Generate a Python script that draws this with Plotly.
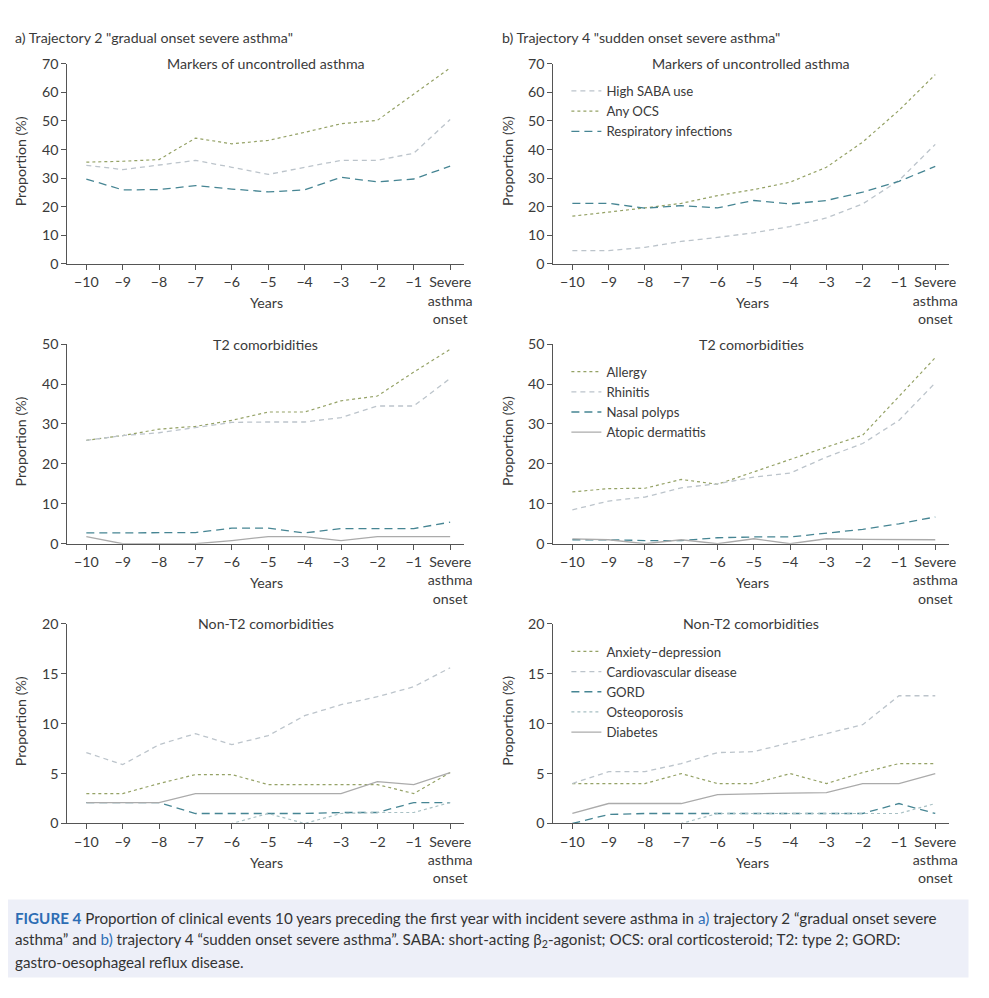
import plotly.graph_objects as go

# Figure size inside the 989x998 page (body keeps an 8px margin).
PAGE_OFF = 8
W, H = 989 - 2 * PAGE_OFF, 998 - 2 * PAGE_OFF
# measured relation between page pixels and photographed pixels
SX, CX = 0.9865, 1.7
SY, CY = 0.9836, 8.7

years = [-10, -9, -8, -7, -6, -5, -4, -3, -2, -1, 0]
tick_text = ["\u221210", "\u22129", "\u22128", "\u22127", "\u22126", "\u22125",
             "\u22124", "\u22123", "\u22122", "\u22121", "Severe<br>asthma<br>onset"]

# ---- a) Trajectory 2: gradual onset ----
a_saba = [34.5, 33.0, 34.6, 36.2, 33.8, 31.3, 33.8, 36.2, 36.2, 38.7, 50.5]
a_ocs = [35.6, 35.9, 36.5, 44.0, 42.0, 43.2, 46.0, 49.0, 50.2, 59.5, 68.5]
a_resp = [29.7, 25.9, 26.0, 27.4, 26.2, 25.2, 25.9, 30.3, 28.7, 29.7, 34.2]

a_allergy = [25.9, 27.1, 28.7, 29.4, 30.9, 33.0, 33.0, 35.8, 37.0, 43.0, 48.7]
a_rhinitis = [25.9, 27.1, 27.8, 29.1, 30.4, 30.5, 30.5, 31.6, 34.5, 34.5, 41.4]
a_polyps = [2.7, 2.7, 2.7, 2.8, 3.9, 3.9, 2.7, 3.8, 3.8, 3.8, 5.4]
a_atopic = [1.8, 0.0, 0.0, 0.0, 0.8, 1.8, 1.8, 0.8, 1.8, 1.8, 1.8]

a_anxiety = [3.0, 3.0, 4.0, 4.9, 4.9, 3.9, 3.9, 3.9, 3.9, 3.0, 5.1]
a_cardio = [7.1, 5.9, 7.9, 9.0, 7.9, 8.8, 10.8, 11.9, 12.7, 13.7, 15.6]
a_gord = [2.1, 2.1, 2.1, 1.0, 1.0, 1.0, 1.0, 1.1, 1.1, 2.1, 2.1]
a_osteo = [0.0, 0.0, 0.0, 0.0, 0.0, 1.0, 0.0, 1.0, 1.1, 1.1, 2.1]
a_diabetes = [2.1, 2.1, 2.1, 3.0, 3.0, 3.0, 3.0, 3.0, 4.2, 3.9, 5.1]

# ---- b) Trajectory 4: sudden onset ----
b_saba = [4.7, 4.7, 5.8, 7.9, 9.3, 10.9, 13.1, 16.1, 21.0, 29.2, 41.8]
b_ocs = [16.7, 18.1, 19.6, 21.2, 23.9, 26.0, 28.6, 33.8, 42.6, 53.7, 66.2]
b_resp = [21.2, 21.2, 19.5, 20.4, 19.6, 22.2, 21.0, 22.2, 25.1, 28.9, 34.1]

b_allergy = [13.0, 13.8, 13.9, 16.1, 14.9, 18.0, 21.2, 24.2, 27.2, 36.8, 46.6]
b_rhinitis = [8.5, 10.7, 11.7, 14.0, 15.0, 16.7, 17.7, 21.7, 25.1, 30.9, 40.3]
b_polyps = [1.0, 1.0, 0.8, 0.8, 1.5, 1.7, 1.7, 2.7, 3.6, 5.0, 6.7]
b_atopic = [1.2, 1.0, 0.0, 1.0, 0.0, 1.25, 0.0, 1.25, 1.1, 1.0, 1.0]

b_anxiety = [4.0, 4.0, 4.0, 5.0, 4.0, 4.0, 5.0, 4.0, 5.1, 6.0, 6.0]
b_cardio = [4.0, 5.2, 5.2, 6.0, 7.1, 7.2, 8.1, 9.0, 9.9, 12.8, 12.8]
b_gord = [0.0, 0.9, 1.0, 1.0, 1.0, 1.0, 1.0, 1.0, 1.0, 2.0, 1.0]
b_osteo = [0.0, 0.0, 0.0, 0.0, 1.0, 1.0, 1.0, 1.0, 1.0, 1.0, 2.0]
b_diabetes = [1.0, 2.0, 2.0, 2.0, 2.9, 3.0, 3.05, 3.1, 4.0, 4.0, 5.0]

row_titles = ["Markers of uncontrolled asthma", "T2 comorbidities", "Non-T2 comorbidities"]
y_max = [70, 50, 20]
y_dtick = [10, 10, 5]

OLIVE = "#95a266"
LGREY = "#bcc4cb"
TEAL = "#468593"
SGREY = "#ababab"
OSTEO = "#a8c0c4"

style = {
    "ocs": dict(color=OLIVE, dash="dot", width=1.2),
    "saba": dict(color=LGREY, dash="5px,4px", width=1.3),
    "resp": dict(color=TEAL, dash="8px,5px", width=1.3),
    "solid": dict(color=SGREY, dash="solid", width=1.3),
    "osteo": dict(color=OSTEO, dash="dot", width=1.2),
}

series = [
    (1, 1, "High SABA use", a_saba, "saba"),
    (1, 1, "Any OCS", a_ocs, "ocs"),
    (1, 1, "Respiratory infections", a_resp, "resp"),
    (1, 2, "High SABA use", b_saba, "saba"),
    (1, 2, "Any OCS", b_ocs, "ocs"),
    (1, 2, "Respiratory infections", b_resp, "resp"),
    (2, 1, "Allergy", a_allergy, "ocs"),
    (2, 1, "Rhinitis", a_rhinitis, "saba"),
    (2, 1, "Nasal polyps", a_polyps, "resp"),
    (2, 1, "Atopic dermatitis", a_atopic, "solid"),
    (2, 2, "Allergy", b_allergy, "ocs"),
    (2, 2, "Rhinitis", b_rhinitis, "saba"),
    (2, 2, "Nasal polyps", b_polyps, "resp"),
    (2, 2, "Atopic dermatitis", b_atopic, "solid"),
    (3, 1, "Anxiety\u2013depression", a_anxiety, "ocs"),
    (3, 1, "Cardiovascular disease", a_cardio, "saba"),
    (3, 1, "GORD", a_gord, "resp"),
    (3, 1, "Osteoporosis", a_osteo, "osteo"),
    (3, 1, "Diabetes", a_diabetes, "solid"),
    (3, 2, "Anxiety\u2013depression", b_anxiety, "ocs"),
    (3, 2, "Cardiovascular disease", b_cardio, "saba"),
    (3, 2, "GORD", b_gord, "resp"),
    (3, 2, "Osteoporosis", b_osteo, "osteo"),
    (3, 2, "Diabetes", b_diabetes, "solid"),
]

FONT = "Lato, 'Noto Sans', sans-serif"
TXT = "#3a3a3a"
AX = "#555555"
FS = 14.2

# pixel geometry (reference picture pixels)
x_px = {1: (68.5, 463.5), 2: (552, 946)}
y_px = {1: (63.3, 263.8), 2: (344, 543.8), 3: (624, 823.8)}
x_range = [-10.525, 0.39]


def px2x(p):
    page = (p - CX) / SX
    return (page - PAGE_OFF) / W


def px2y(p):
    page = (p - CY) / SY
    return 1 - (page - PAGE_OFF) / H


fig = go.Figure()
layout = dict(
    width=W, height=H,
    margin=dict(l=0, r=0, t=0, b=0),
    paper_bgcolor="white", plot_bgcolor="white",
    font=dict(family=FONT, size=FS, color=TXT),
    showlegend=True,
)


def axis_id(r, c):
    return (r - 1) * 2 + c


for r in (1, 2, 3):
    for c in (1, 2):
        i = axis_id(r, c)
        xs = "" if i == 1 else str(i)
        layout["xaxis" + xs] = dict(
            domain=[px2x(x_px[c][0]), px2x(x_px[c][1])],
            anchor="y" + xs, range=x_range,
            tickmode="array", tickvals=years, ticktext=tick_text,
            ticks="outside", ticklen=5, tickcolor=AX, tickwidth=1,
            showline=True, linecolor=AX, linewidth=1,
            showgrid=False, zeroline=False, fixedrange=True,
            tickfont=dict(size=FS, color=TXT),
        )
        layout["yaxis" + xs] = dict(
            domain=[px2y(y_px[r][1]), px2y(y_px[r][0])],
            anchor="x" + xs, range=[0, y_max[r - 1]],
            tickmode="linear", tick0=0, dtick=y_dtick[r - 1],
            ticks="outside", ticklen=5, tickcolor=AX, tickwidth=1,
            showline=True, linecolor=AX, linewidth=1,
            showgrid=False, zeroline=False, fixedrange=True,
            tickfont=dict(size=FS, color=TXT),
        )

legend_name = {1: "legend", 2: "legend2", 3: "legend3"}
for (r, c, name, vals, st) in series:
    i = axis_id(r, c)
    xs = "" if i == 1 else str(i)
    fig.add_trace(go.Scatter(
        x=years, y=vals, mode="lines", name=name,
        line=style[st], xaxis="x" + xs, yaxis="y" + xs,
        showlegend=(c == 2), legend=legend_name[r],
        hoverinfo="skip",
    ))

legend_top_px = {1: 75.5, 2: 356.5, 3: 636.5}
for r in (1, 2, 3):
    layout[legend_name[r]] = dict(
        x=px2x(565), y=px2y(legend_top_px[r]), xanchor="left", yanchor="top",
        bgcolor="rgba(0,0,0,0)", font=dict(size=13.2, color=TXT),
        tracegroupgap=0, itemwidth=30,
    )

ann = []
ann.append(dict(x=px2x(15), y=px2y(37), xref="paper", yref="paper", xanchor="left", yanchor="middle",
                text="a) Trajectory 2 \"gradual onset severe asthma\"", showarrow=False,
                font=dict(size=FS, color=TXT)))
ann.append(dict(x=px2x(499), y=px2y(37), xref="paper", yref="paper", xanchor="left", yanchor="middle",
                text="b) Trajectory 4 \"sudden onset severe asthma\"", showarrow=False,
                font=dict(size=FS, color=TXT)))

for r in (1, 2, 3):
    for c in (1, 2):
        cx = (x_px[c][0] + x_px[c][1]) / 2
        ann.append(dict(x=px2x(cx), y=px2y(y_px[r][0]), xref="paper", yref="paper",
                        xanchor="center", yanchor="middle", text=row_titles[r - 1],
                        showarrow=False, font=dict(size=FS, color=TXT)))
        ann.append(dict(x=px2x(cx + 1), y=px2y(y_px[r][1] + 39), xref="paper", yref="paper",
                        xanchor="center", yanchor="middle", text="Years",
                        showarrow=False, font=dict(size=FS, color=TXT)))
        ytx = 22 if c == 1 else 507
        ann.append(dict(x=px2x(ytx), y=px2y((y_px[r][0] + y_px[r][1]) / 2 - 3), xref="paper", yref="paper",
                        xanchor="center", yanchor="middle", text="Proportion (%)", textangle=-90,
                        showarrow=False, font=dict(size=FS, color=TXT)))

# caption
BLUE = "#2e6db4"
CAP_FONT = "Lato, sans-serif"
cap_lines = [
    "<b style='color:%s'>FIGURE 4</b> Proportion of clinical events 10 years preceding the first year with incident severe asthma in <span style='color:%s'>a)</span> trajectory 2 \u201cgradual onset severe" % (BLUE, BLUE),
    "asthma\u201d and <span style='color:%s'>b)</span> trajectory 4 \u201csudden onset severe asthma\u201d. SABA: short-acting \u03b2<sub>2</sub>-agonist; OCS: oral corticosteroid; T2: type 2; GORD:" % BLUE,
    "gastro-oesophageal reflux disease.",
]
cap_y = [918, 940, 962]
for t, yy in zip(cap_lines, cap_y):
    ann.append(dict(x=px2x(15), y=px2y(yy), xref="paper", yref="paper", xanchor="left", yanchor="middle",
                    text=t, showarrow=False, font=dict(family=CAP_FONT, size=15.2, color="#333333")))

layout["annotations"] = ann
layout["shapes"] = [dict(type="rect", xref="paper", yref="paper",
                         x0=px2x(5), x1=px2x(965), y0=px2y(978), y1=px2y(900),
                         fillcolor="#edeff8", line=dict(width=0), layer="below")]

fig.update_layout(**layout)
fig.write_html("out.html")
